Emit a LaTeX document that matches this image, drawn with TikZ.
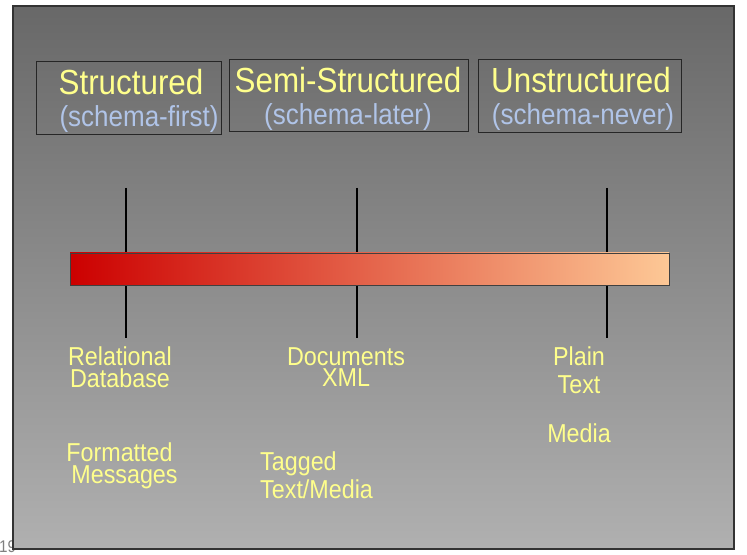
\documentclass[tikz,border=0pt]{standalone}
\usepackage{fontspec}
\setmainfont{Liberation Sans}
% slightly condensed face for the slide text
\newfontfamily\slidefont[FakeStretch=0.9]{Liberation Sans}
\definecolor{slidetop}{RGB}{104,104,104}
\definecolor{slidebot}{RGB}{176,176,176}
\definecolor{labelyellow}{RGB}{255,255,140}
\definecolor{schemablue}{RGB}{176,196,232}
\definecolor{barred}{RGB}{204,0,0}
\definecolor{barpeach}{RGB}{253,200,150}
\tikzset{
  title/.style={text=labelyellow, font=\slidefont\fontsize{35}{40}\selectfont, anchor=base, inner sep=0pt},
  schema/.style={text=schemablue, font=\slidefont\fontsize{29}{34}\selectfont, anchor=base, inner sep=0pt},
  kind/.style={text=labelyellow, font=\slidefont\fontsize{26}{22}\selectfont, anchor=north, align=center, inner sep=0pt},
  widekind/.style={kind, font=\slidefont\fontsize{26}{28}\selectfont},
  catbox/.style={draw=black!85, line width=0.8pt},
  tick/.style={draw=black, line width=1.5pt},
}
\begin{document}
\begin{tikzpicture}[x=1bp, y=-1bp]
\useasboundingbox (0,0) rectangle (747,555);
% slide number, partly hidden by the slide
\node[text=black!50, font=\slidefont\fontsize{17}{19}\selectfont, anchor=base west, inner sep=0pt] (num) at (-1,552) {19};
% slide background
\shade[top color=slidetop, bottom color=slidebot] (13,6) rectangle (734,549);
\draw[black!80, line width=1.4pt] (13,6) rectangle (734,549);

% category boxes
\draw[catbox] (36,61) rectangle (221,134);
\draw[catbox] (229,59) rectangle (468,131);
\draw[catbox] (478,59) rectangle (681,132);
\node[title] (st) at (131,95) {Structured};
\node[schema] (stsub) at (139,127) {(schema-first)};
\node[title] (semi) at (348,93) {Semi-Structured};
\node[schema] (semisub) at (348,125) {(schema-later)};
\node[title] (un) at (581,93) {Unstructured};
\node[schema] (unsub) at (583,125) {(schema-never)};

% ticks on the scale
\coordinate (t1a) at (126,188); \coordinate (t1b) at (126,338);
\coordinate (t2a) at (357,188); \coordinate (t2b) at (357,338);
\coordinate (t3a) at (607,188); \coordinate (t3b) at (607,338);
\draw[tick] (t1a) -- (t1b);
\draw[tick] (t2a) -- (t2b);
\draw[tick] (t3a) -- (t3b);

% structure scale bar
\shade[left color=barred, right color=barpeach] (70,253) rectangle (669,285);
\draw[black!75, line width=0.9pt] (70,253) rectangle (669,285);

% examples under each tick
\node[kind] (rel) at (120,347) {Relational\\Database};
\node[kind] (fmt) at (119.5,442.5) {Formatted\\\hspace*{10bp}Messages};
\node[kind] (docs) at (346,347) {Documents\\XML};
\node[widekind, align=left, anchor=north west] (tag) at (260,452) {Tagged\\Text/Media};
\node[widekind] (plain) at (579,347) {Plain\\Text};
\node[kind, anchor=base] (media) at (579,442) {Media};
\end{tikzpicture}
\end{document}
